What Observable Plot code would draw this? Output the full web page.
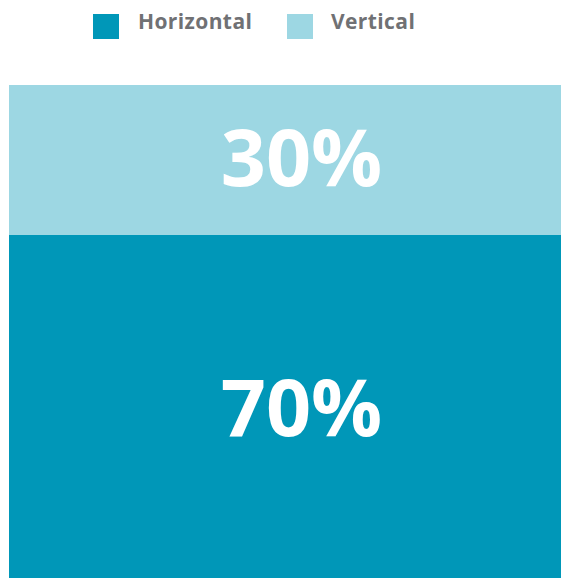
<!DOCTYPE html>
<html><head><meta charset="utf-8">
<script src="https://cdn.jsdelivr.net/npm/d3@7"></script>
<script src="https://cdn.jsdelivr.net/npm/@observablehq/plot@0.6"></script>
<style>
body{margin:0;background:#fff;font-family:"Open Sans",sans-serif;overflow:hidden;}
#legend{position:relative;height:85px;width:561px;}
.sw{position:absolute;top:14px;width:26px;height:25px;}
.lb{position:absolute;top:6px;font-weight:700;font-size:21px;letter-spacing:0.4px;color:#707174;line-height:30px;}
</style></head>
<body>
<div id="legend"></div>
<div id="chart"></div>
<script>
const categories = ["Horizontal", "Vertical"];
const values = [70, 30];
const colors = ["#0097b8", "#9dd7e3"];
const data = categories.map((c, i) => ({type: c, value: values[i], group: "all"}));

const leg = document.getElementById("legend");
const pos = [[93, 138], [287, 331]];
categories.forEach((c, i) => {
  const s = document.createElement("div");
  s.className = "sw"; s.style.left = pos[i][0] + "px"; s.style.background = colors[i];
  leg.appendChild(s);
  const t = document.createElement("div");
  t.className = "lb"; t.style.left = pos[i][1] + "px"; t.textContent = c;
  leg.appendChild(t);
});

const chart = Plot.plot({
  width: 561, height: 500,
  marginLeft: 9, marginRight: 0, marginTop: 0, marginBottom: 0,
  style: {fontFamily: "Open Sans, sans-serif", background: "#fff"},
  x: {axis: null, padding: 0},
  y: {axis: null, domain: [0, 100]},
  color: {domain: categories, range: colors},
  marks: [
    Plot.barY(data, {x: "group", y: "value", fill: "type", inset: 0}),
    Plot.text(data, Plot.stackY({x: "group", y: "value", text: d => d.value + "%", fill: "white", fontSize: 79, fontWeight: 700, dx: 16, dy: [0]}))
  ]
});
document.getElementById("chart").appendChild(chart);
</script>
</body></html>
